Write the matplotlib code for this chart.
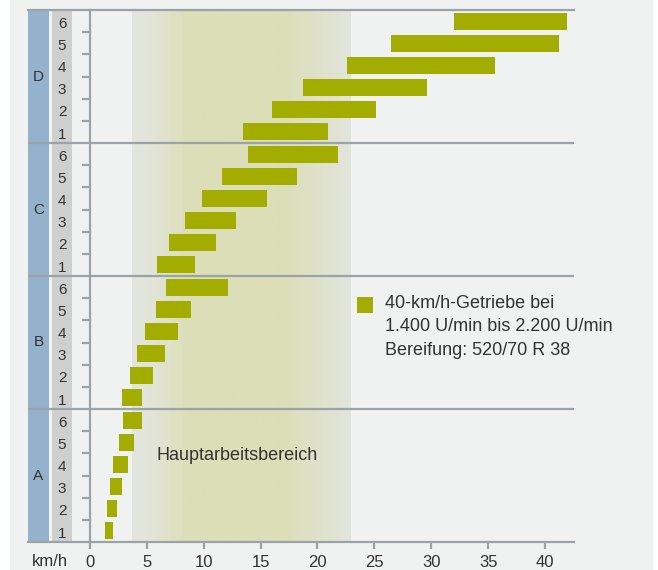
import numpy as np
import matplotlib.pyplot as plt
from matplotlib.patches import Rectangle
from matplotlib.colors import to_rgb

# Fahrbereiche A-D, je 6 Gaenge: Geschwindigkeit von/bis in km/h
ranges = ["A", "B", "C", "D"]
gears = ["1", "2", "3", "4", "5", "6"]
start_a = [1.3, 1.5, 1.75, 2.0, 2.55, 2.9]
end_a = [2.0, 2.35, 2.8, 3.35, 3.85, 4.6]
start_b = [2.8, 3.5, 4.1, 4.85, 5.8, 6.7]
end_b = [4.55, 5.55, 6.6, 7.75, 8.9, 12.1]
start_c = [5.9, 6.95, 8.35, 9.85, 11.6, 13.9]
end_c = [9.2, 11.1, 12.8, 15.55, 18.2, 21.8]
start_d = [13.45, 16.0, 18.7, 22.6, 26.5, 32.0]
end_d = [20.9, 25.1, 29.6, 35.6, 41.2, 41.9]

main_range = [3.7, 22.9]
x_ticks = [0, 5, 10, 15, 20, 25, 30, 35, 40]
legend_lines = ["40-km/h-Getriebe bei",
                "1.400 U/min bis 2.200 U/min",
                "Bereifung: 520/70 R 38"]

bg = "#f0f2f1"
bar_color = "#a2ad00"
line_color = "#9aa4a8"
text_color = "#333333"

plt.rcParams['font.family'] = ['Liberation Sans', 'DejaVu Sans']

fig = plt.figure(figsize=(6.58, 5.70), dpi=100)
fig.patch.set_facecolor(bg)
fig.patches.append(Rectangle((0, 0), 10 / 658, 1, transform=fig.transFigure,
                             facecolor="white", edgecolor="none"))
fig.patches.append(Rectangle((653 / 658, 0), 5 / 658, 1, transform=fig.transFigure,
                             facecolor="white", edgecolor="none"))

ax = fig.add_axes([28 / 658, 1 - 542 / 570, 546 / 658, 532 / 570])
ax.set_facecolor("none")
ax.set_xlim(-5.45, 42.55)
ax.set_ylim(0, 24)

# Hauptarbeitsbereich as horizontal gradient
edge = np.array(to_rgb("#e3e6df"))
mid = np.array(to_rgb("#dcdeb8"))
edge_r = np.array(to_rgb("#e2e5dc"))
xs = np.linspace(main_range[0], main_range[1], 400)
stops_x = [main_range[0], 5.5, 8.6, 17.0, main_range[1]]
grad = np.zeros((1, len(xs), 3))
for c in range(3):
    grad[0, :, c] = np.interp(xs, stops_x,
                              [edge[c], edge[c] * 0.8 + mid[c] * 0.2, mid[c], mid[c], edge_r[c]])
ax.imshow(grad, extent=[main_range[0], main_range[1], 0, 24], aspect="auto", zorder=0,
          interpolation="bilinear")
ax.text(12.97, 3.88, "Hauptarbeitsbereich", ha="center", va="center",
        fontsize=13, color=text_color, zorder=3)

# label columns
ax.add_patch(Rectangle((-5.45, 0), 1.85, 24, facecolor="#94b2cc", edgecolor="none", zorder=1,
                       clip_on=False))
ax.add_patch(Rectangle((-3.34, 0), 1.76, 24, facecolor="#cfcfcf", edgecolor="none", zorder=1,
                       clip_on=False))

starts = [start_a, start_b, start_c, start_d]
ends = [end_a, end_b, end_c, end_d]
for i, r in enumerate(ranges):
    pos = np.arange(6) + i * 6 + 0.5
    ax.barh(pos, np.array(ends[i]) - np.array(starts[i]), left=starts[i], height=0.77,
            color=bar_color, zorder=2)
    ax.text(-4.53, i * 6 + 3, r, ha="center", va="center", fontsize=11, color=text_color)
    for j, g in enumerate(gears):
        ax.text(-2.46, pos[j] - 0.12, g, ha="center", va="center", fontsize=11,
                color=text_color)
    if i > 0:
        ax.axhline(i * 6, color=line_color, lw=1.6, zorder=4)

# axes styling
for s in ["top", "bottom", "left"]:
    ax.spines[s].set_color(line_color)
    ax.spines[s].set_linewidth(1.6)
    ax.spines[s].set_zorder(4)
ax.spines["right"].set_visible(False)
ax.spines["left"].set_position(("data", 0))

minor = [k for k in range(1, 24) if k % 6 != 0]
ax.set_yticks(minor)
ax.set_yticklabels([])
ax.tick_params(axis="y", length=5.5, width=1.6, color=line_color, direction="out")
ax.set_xticks(x_ticks)
ax.set_xticklabels([str(t) for t in x_ticks])
ax.tick_params(axis="x", length=5, width=1.6, color=line_color, direction="out",
               labelsize=12, labelcolor=text_color, pad=4.5)
ax.text(-3.5, -0.88, "km/h", ha="center", va="center", fontsize=12, color=text_color,
        clip_on=False)

# legend
ax.add_patch(Rectangle((24.2 - 0.7, 10.71 - 0.36), 1.4, 0.72, facecolor=bar_color,
                       edgecolor="none", zorder=3))
for k, line in enumerate(legend_lines):
    ax.text(25.9, [10.78, 9.70, 8.64][k], line, ha="left", va="center", fontsize=13,
            color=text_color)

fig.savefig("out.png", dpi=100, facecolor=fig.get_facecolor())
